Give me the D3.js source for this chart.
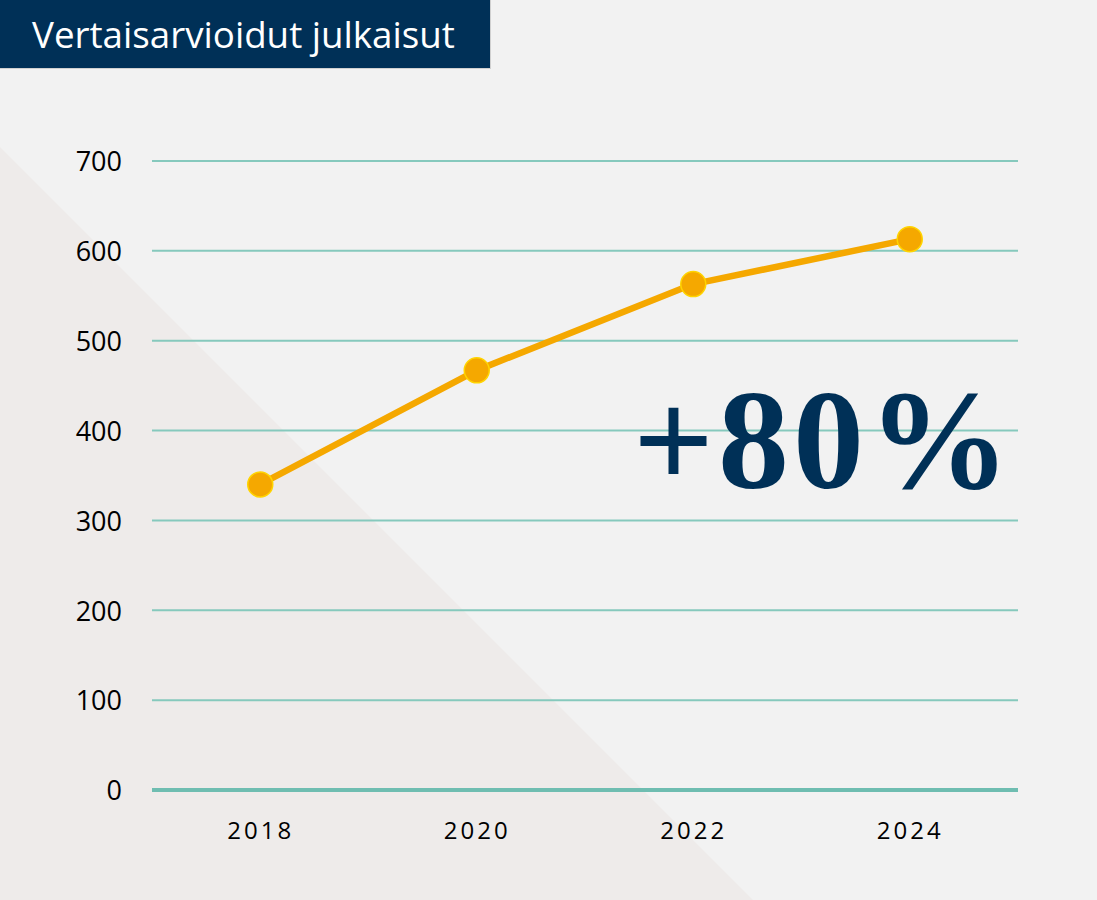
<!DOCTYPE html>
<html><head><meta charset="utf-8">
<script src="https://cdn.jsdelivr.net/npm/d3@7"></script>
<style>html,body{margin:0;padding:0;background:#f2f2f2;overflow:hidden}</style>
</head><body>
<svg id="chart" width="1097" height="900"></svg>
<script>
const years = ["2018", "2020", "2022", "2024"];
const values = [340, 467, 563, 613];
const yTicks = [0, 100, 200, 300, 400, 500, 600, 700];
const titleText = "Vertaisarvioidut julkaisut";
const growthText = "+80%";

const W = 1097, H = 900;
const svg = d3.select("#chart");

svg.append("rect").attr("width", W).attr("height", H).attr("fill", "#f2f2f2");
svg.append("path").attr("d", "M0,147 L0,900 L753,900 Z").attr("fill", "#eeebea");

const x = d3.scalePoint().domain(years).range([152, 1018]).padding(0.5);
const y = d3.scaleLinear().domain([0, 700]).range([790, 161]);

// gridlines
svg.append("g").selectAll("line").data(yTicks).join("line")
  .attr("x1", 152).attr("x2", 1018)
  .attr("y1", d => y(d)).attr("y2", d => y(d))
  .attr("stroke", d => d === 0 ? "#6fbdb1" : "#86c9bd")
  .attr("stroke-width", d => d === 0 ? 4 : 2);

// y axis labels
const yAxis = d3.axisLeft(y).tickValues(yTicks).tickSize(0).tickPadding(0);
const gy = svg.append("g").attr("transform", "translate(122,0)").call(yAxis);
gy.select(".domain").remove();
gy.selectAll("text").attr("font-family", "'Open Sans', 'Noto Sans', sans-serif")
  .attr("font-size", 27).attr("fill", "#000").attr("dy", "0.36em");

// x axis labels
const xAxis = d3.axisBottom(x).tickSize(0).tickPadding(0);
const gx = svg.append("g").attr("transform", "translate(0,839)").call(xAxis);
gx.select(".domain").remove();
gx.selectAll("text").attr("font-family", "'Open Sans', 'Noto Sans', sans-serif")
  .attr("font-size", 24).attr("fill", "#000").attr("dy", 0)
  .attr("letter-spacing", "3px");

// line
const line = d3.line().x((d, i) => x(years[i])).y(d => y(d));
svg.append("path").datum(values).attr("d", line)
  .attr("fill", "none").attr("stroke", "#f5a800").attr("stroke-width", 6.5)
  .attr("stroke-linejoin", "round");

svg.append("g").selectAll("circle").data(values).join("circle")
  .attr("cx", (d, i) => x(years[i])).attr("cy", d => y(d)).attr("r", 12.5)
  .attr("fill", "#f5a800").attr("stroke", "#ffd400").attr("stroke-width", 1.5);

// growth text
svg.append("text").attr("x", 633).attr("y", 488)
  .attr("font-family", "'Liberation Serif', 'DejaVu Serif', serif")
  .attr("font-weight", "bold").attr("font-size", 142).attr("fill", "#003057")
  .attr("letter-spacing", "4px")
  .text(growthText);

// title box
svg.append("rect").attr("x", 0).attr("y", 0).attr("width", 491).attr("height", 69).attr("fill", "#d0d0d0");
svg.append("rect").attr("x", 0).attr("y", 0).attr("width", 490).attr("height", 68).attr("fill", "#003057");
const t = svg.append("text").attr("x", 32).attr("y", 48)
  .attr("font-family", "'Open Sans', 'Noto Sans', sans-serif")
  .attr("font-size", 100).attr("fill", "#fff").text(titleText);
const len = t.node().getComputedTextLength();
t.attr("font-size", 100 * 423 / len);
</script>
</body></html>
